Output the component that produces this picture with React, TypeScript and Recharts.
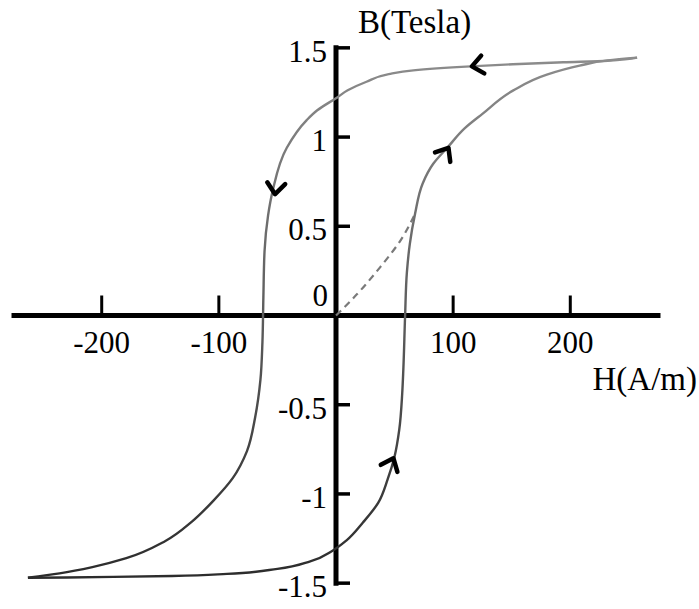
import { LineChart, Line, XAxis, YAxis, ReferenceLine, ReferenceDot } from 'recharts';

// field strength H (A/m) against flux density B (T)
const descendingBranch: [number, number][] = [
  [257, 1.445], [232, 1.428], [194, 1.419], [151, 1.408], [115, 1.396], [66, 1.374],
  [45, 1.353], [26, 1.31], [10, 1.262], [1, 1.222], [-16, 1.15], [-25, 1.095], [-42, 0.94],
  [-54, 0.70], [-58, 0.56], [-61, 0.36], [-62, 0.1], [-62.8, -0.15], [-64.5, -0.36],
  [-69, -0.57], [-76, -0.76], [-88, -0.91], [-105, -1.04], [-123, -1.155], [-146, -1.265],
  [-179, -1.36], [-208, -1.41], [-236, -1.445], [-263, -1.47],
];

const ascendingBranch: [number, number][] = [
  [-263, -1.47], [-230, -1.468], [-190, -1.465], [-140, -1.46], [-93, -1.448], [-50, -1.42],
  [-22, -1.378], [-3, -1.318], [9, -1.26], [23, -1.16], [36, -1.05], [44, -0.92], [50, -0.79],
  [54, -0.64], [56.5, -0.44], [57.5, -0.3], [59, 0], [60.5, 0.24], [63, 0.4], [67.5, 0.57],
  [74, 0.74], [83, 0.85], [95, 0.94], [110, 1.05], [125, 1.13], [151, 1.26], [180, 1.35],
  [208, 1.4], [232, 1.43], [257, 1.445],
];

const initialCurve: [number, number][] = [
  [0, 0], [18, 0.12], [37.6, 0.27], [55, 0.42], [67.5, 0.57],
];

const hTicks = [-200, -100, 100, 200];
const hTickLabels = ['-200', '-100', '100', '200'];
const bTicks = [1.5, 1, 0.5, -0.5, -1, -1.5];
const bTickLabels = ['1.5', '1', '0.5', '-0.5', '-1', '-1.5'];

// arrowheads: position on the loop and screen direction in degrees (0 = right)
const arrows = [
  { h: 116, b: 1.396, dir: 170 },
  { h: -52, b: 0.68, dir: 96 },
  { h: 49, b: -0.8, dir: -67 },
  { h: 96, b: 0.94, dir: -58 },
];

const toRows = (pts: [number, number][]) => pts.map(([h, b]) => ({ h, b }));

const FONT = '"Liberation Serif", "Times New Roman", serif';

const arrowShape = (dir: number) => (p: any) => (
  <path
    d="M -11 -9 L 0 0 L -11 9"
    transform={`translate(${p.cx},${p.cy}) rotate(${dir})`}
    fill="none"
    stroke="#000"
    strokeWidth={4.5}
    strokeLinecap="round"
    strokeLinejoin="round"
  />
);

const hTickShape = (label: string) => (p: any) => (
  <g>
    <line x1={p.cx} x2={p.cx} y1={p.cy} y2={p.cy - 20} stroke="#000" strokeWidth={3} />
    <text x={p.cx} y={p.cy + 37} textAnchor="middle" fontFamily={FONT} fontSize={31} fill="#000">
      {label}
    </text>
  </g>
);

const bTickShape = (label: string) => (p: any) => (
  <g>
    <line x1={p.cx} x2={p.cx + 14} y1={p.cy} y2={p.cy} stroke="#000" strokeWidth={3.5} />
    <text x={p.cx - 9} y={p.cy + 14} textAnchor="end" fontFamily={FONT} fontSize={31} fill="#000">
      {label}
    </text>
  </g>
);

const originShape = (p: any) => (
  <text x={p.cx - 8} y={p.cy - 10} textAnchor="end" fontFamily={FONT} fontSize={31} fill="#000">
    0
  </text>
);

export default function App() {
  return (
    <div style={{ position: 'absolute', left: 0, top: 0, width: 699, height: 609, background: '#fff' }}>
      <LineChart width={699} height={609} margin={{ top: 30, right: 35, bottom: 8, left: 8 }}>
        <defs>
          <linearGradient id="loopShade" x1="0" y1="0" x2="0" y2="1">
            <stop offset="0" stopColor="#8c8c8c" />
            <stop offset="1" stopColor="#2c2c2c" />
          </linearGradient>
        </defs>
        <XAxis type="number" dataKey="h" domain={[-280, 280]} hide />
        <YAxis type="number" dataKey="b" domain={[-1.6, 1.6]} hide />

        <ReferenceLine
          segment={[{ x: -277, y: 0 }, { x: 277, y: 0 }]}
          stroke="#000"
          strokeWidth={5}
        />
        <ReferenceLine
          segment={[{ x: 0, y: -1.5 }, { x: 0, y: 1.5 }]}
          stroke="#000"
          strokeWidth={5}
          strokeLinecap="square"
        />
        {hTicks.map((h, i) => (
          <ReferenceDot key={`h${h}`} x={h} y={0} shape={hTickShape(hTickLabels[i])} />
        ))}
        {bTicks.map((b, i) => (
          <ReferenceDot key={`b${b}`} x={0} y={b} shape={bTickShape(bTickLabels[i])} />
        ))}
        <ReferenceDot x={0} y={0} shape={originShape} />

        {/* B is monotonic along each branch, so interpolate along the vertical */}
        <Line
          data={toRows(initialCurve)}
          dataKey="b"
          type="monotoneY"
          stroke="#7a7a7a"
          strokeWidth={2.2}
          strokeDasharray="7 5"
          dot={false}
          activeDot={false}
          isAnimationActive={false}
        />
        <Line
          data={toRows(descendingBranch)}
          dataKey="b"
          type="monotoneY"
          stroke="url(#loopShade)"
          strokeWidth={2.4}
          dot={false}
          activeDot={false}
          isAnimationActive={false}
        />
        <Line
          data={toRows(ascendingBranch)}
          dataKey="b"
          type="monotoneY"
          stroke="url(#loopShade)"
          strokeWidth={2.4}
          dot={false}
          activeDot={false}
          isAnimationActive={false}
        />
        {arrows.map((a, i) => (
          <ReferenceDot key={`a${i}`} x={a.h} y={a.b} shape={arrowShape(a.dir)} />
        ))}

        <text x={358} y={33} fontFamily={FONT} fontSize={33} fill="#000">
          B(Tesla)
        </text>
        <text x={697} y={390} textAnchor="end" fontFamily={FONT} fontSize={33} fill="#000">
          H(A/m)
        </text>
      </LineChart>
    </div>
  );
}
